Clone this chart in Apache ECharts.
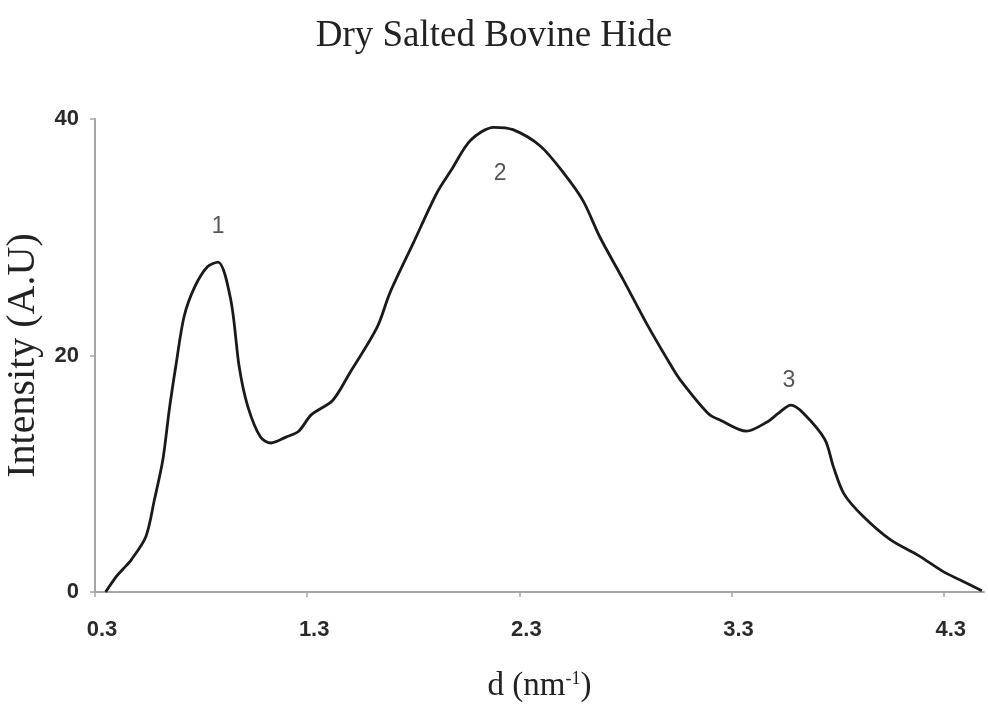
<!DOCTYPE html>
<html>
<head>
<meta charset="utf-8">
<script src="https://cdn.jsdelivr.net/npm/echarts@6/dist/echarts.min.js"></script>
<style>
html, body { margin: 0; padding: 0; background: #fff; }
#chart { width: 988px; height: 717px; }
</style>
</head>
<body>
<div id="chart"></div>
<script>
// d (nm^-1) values and intensity
var dValues = [0.35, 0.40, 0.43, 0.47, 0.54, 0.58, 0.62, 0.65, 0.68, 0.72,
	0.77, 0.83, 0.88, 0.94, 0.98, 1.02, 1.08, 1.13, 1.20, 1.26,
	1.32, 1.42, 1.50, 1.63, 1.69, 1.80, 1.91, 1.98, 2.07, 2.18,
	2.27, 2.40, 2.51, 2.60, 2.68, 2.79, 2.90, 3.01, 3.06, 3.19,
	3.25, 3.37, 3.47, 3.52, 3.58, 3.64, 3.74, 3.78, 3.83, 3.92,
	4.05, 4.18, 4.30, 4.38, 4.48];
var intensity = [0, 1.3, 1.9, 2.7, 4.7, 7.8, 11.2, 15.4, 19.0, 23.3,
	25.8, 27.5, 27.9, 24.7, 19.0, 15.7, 13.1, 12.6, 13.1, 13.6,
	15.0, 16.2, 18.5, 22.4, 25.3, 29.5, 33.7, 35.7, 38.2, 39.3,
	39.1, 37.7, 35.4, 33.1, 30.0, 26.4, 22.7, 19.3, 17.9, 15.1,
	14.5, 13.6, 14.4, 15.1, 15.8, 15.1, 12.9, 10.6, 8.3, 6.4,
	4.4, 3.1, 1.7, 1.0, 0.1];

// x tick labels
var xTicks = [0.3, 1.3, 2.3, 3.3, 4.3];

// peak numbers
var peakNames = ['1', '2', '3'];
var peakX = [0.88, 2.21, 3.57];
var peakY = [30.9, 35.4, 17.9];

var curve = dValues.map(function (d, i) { return [d, intensity[i]]; });
var peaks = peakNames.map(function (n, i) { return { name: n, value: [peakX[i], peakY[i]] }; });

var dom = document.getElementById('chart');
var myChart = echarts.init(dom);
var axisGray = '#a6a6a6';

var option = {
	animation: false,
	backgroundColor: '#fff',
	title: {
		text: 'Dry Salted Bovine Hide',
		left: 'center',
		top: 13,
		textStyle: {
			fontFamily: 'Liberation Serif',
			fontWeight: 'normal',
			fontSize: 37,
			color: '#222'
		}
	},
	grid: {
		left: 95,
		right: 4,
		top: 119,
		bottom: 125,
		containLabel: false,
		outerBoundsMode: 'none'
	},
	xAxis: {
		type: 'value',
		min: 0.3,
		max: 4.49,
		splitLine: { show: false },
		axisLine: { lineStyle: { color: axisGray, width: 2 } },
		axisTick: {
			show: true,
			length: 5,
			customValues: xTicks,
			lineStyle: { color: axisGray, width: 1.5 }
		},
		axisLabel: {
			customValues: xTicks,
			margin: 27,
			padding: [0, 0, 0, 14],
			fontFamily: 'Liberation Sans',
			fontWeight: 'bold',
			fontSize: 22,
			color: '#2a2a2a',
			formatter: function (v) { return v.toFixed(1); }
		},
		name: '{n|d (nm}{s|-1}{n|)}',
		nameLocation: 'middle',
		nameGap: 78,
		nameTextStyle: {
			rich: {
				n: { fontFamily: 'Liberation Serif', fontSize: 33, color: '#222' },
				s: { fontFamily: 'Liberation Serif', fontSize: 18, color: '#222', verticalAlign: 'top', padding: [0, 0, 14, 0] }
			}
		}
	},
	yAxis: {
		type: 'value',
		min: 0,
		max: 40,
		interval: 20,
		splitLine: { show: false },
		axisLine: { show: true, lineStyle: { color: axisGray, width: 2 } },
		axisTick: { show: true, length: 5, lineStyle: { color: axisGray, width: 1.5 } },
		axisLabel: {
			margin: 16,
			fontFamily: 'Liberation Sans',
			fontWeight: 'bold',
			fontSize: 22,
			color: '#2a2a2a'
		},
		name: 'Intensity (A.U)',
		nameLocation: 'middle',
		nameGap: 48,
		nameTextStyle: {
			fontFamily: 'Liberation Serif',
			fontSize: 40,
			color: '#222'
		}
	},
	series: [{
		type: 'line',
		data: curve,
		smooth: 0.3,
		symbol: 'none',
		lineStyle: { color: '#1a1a1a', width: 2.8 }
	}, {
		type: 'scatter',
		data: peaks,
		symbolSize: 0,
		silent: true,
		label: {
			show: true,
			position: 'inside',
			formatter: '{b}',
			fontFamily: 'Liberation Sans',
			fontSize: 23,
			color: '#2a2a2a'
		}
	}]
};
if (option && typeof option === "object") {
	myChart.setOption(option, true);
}
</script>
</body>
</html>
